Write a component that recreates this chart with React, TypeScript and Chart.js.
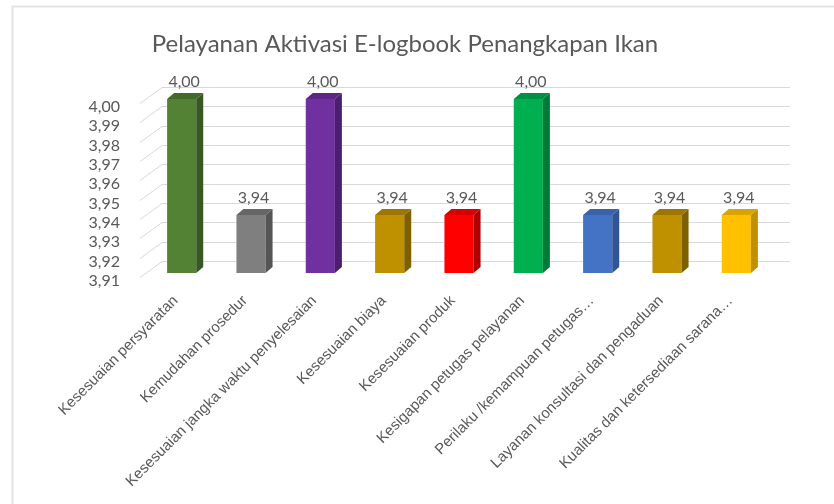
import React, { useEffect, useRef } from "react";
import { Chart, registerables } from "chart.js";

Chart.register(...registerables);

const TITLE = "Pelayanan Aktivasi E-logbook Penangkapan Ikan";

const categories = [
  "Kesesuaian persyaratan",
  "Kemudahan prosedur",
  "Kesesuaian jangka waktu penyelesaian",
  "Kesesuaian biaya",
  "Kesesuaian produk",
  "Kesigapan petugas pelayanan",
  "Perilaku /kemampuan petugas…",
  "Layanan konsultasi dan pengaduan",
  "Kualitas dan ketersediaan sarana…",
];

const values = [4.0, 3.94, 4.0, 3.94, 3.94, 4.0, 3.94, 3.94, 3.94];

const Y_MIN = 3.91;
const Y_MAX = 4.0;
const Y_STEP = 0.01;

const frontColors = ["#548235", "#7f7f7f", "#7030a0", "#bf9000", "#ff0000", "#00b050", "#4472c4", "#bf9000", "#ffc000"];
const sideColors = ["#385723", "#555555", "#4b1f6e", "#7f6000", "#b00000", "#007a38", "#2f5597", "#7f6000", "#bf9000"];
const topColors = ["#44692b", "#666666", "#5d2786", "#9c7600", "#d80000", "#009244", "#3a62aa", "#9c7600", "#d9a300"];

const fmt = (v: number) => v.toFixed(2).replace(".", ",");

const TEXT = "#595959";
const GRID = "#d9d9d9";
const DX = 7;
const DY = 6;

const threeD = {
  id: "threeD",
  beforeDraw(chart: any) {
    const ctx = chart.ctx;
    ctx.save();
    ctx.fillStyle = "#ffffff";
    ctx.fillRect(0, 0, chart.width, chart.height);
    ctx.strokeStyle = "#e3e3e3";
    ctx.lineWidth = 2;
    ctx.beginPath();
    ctx.moveTo(12.5, chart.height);
    ctx.lineTo(12.5, 6.5);
    ctx.lineTo(chart.width, 6.5);
    ctx.stroke();
    // title
    ctx.fillStyle = TEXT;
    ctx.font = "24px Lato";
    ctx.textAlign = "center";
    ctx.textBaseline = "middle";
    ctx.fillText(TITLE, 405, 44);
    ctx.restore();
  },
  beforeDatasetsDraw(chart: any) {
    const ctx = chart.ctx;
    const y = chart.scales.y;
    const { left, right } = chart.chartArea;
    ctx.save();
    ctx.strokeStyle = GRID;
    ctx.lineWidth = 1;
    ctx.fillStyle = TEXT;
    ctx.font = "16px Lato";
    ctx.textAlign = "right";
    ctx.textBaseline = "middle";
    y.ticks.forEach((t: any) => {
      const py = Math.round(y.getPixelForValue(t.value));
      ctx.beginPath();
      ctx.moveTo(left - 7, py + 4 + 0.5);
      ctx.lineTo(left + 15, py - 12 + 0.5);
      ctx.lineTo(right + 19, py - 12 + 0.5);
      ctx.stroke();
      ctx.fillText(fmt(t.value), left - 27, py + 8);
    });
    ctx.restore();
  },
  afterDatasetsDraw(chart: any) {
    const ctx = chart.ctx;
    const meta = chart.getDatasetMeta(0);
    const bottom = chart.chartArea.bottom;
    ctx.save();
    meta.data.forEach((bar: any, i: number) => {
      const { x, y, width } = bar.getProps(["x", "y", "width"], true);
      const base = bottom;
      const l = x - width / 2;
      const r = x + width / 2;
      // side face
      ctx.fillStyle = sideColors[i];
      ctx.beginPath();
      ctx.moveTo(r, y);
      ctx.lineTo(r + DX, y - DY);
      ctx.lineTo(r + DX, base - DY);
      ctx.lineTo(r, base);
      ctx.closePath();
      ctx.fill();
      // top face
      ctx.fillStyle = topColors[i];
      ctx.beginPath();
      ctx.moveTo(l, y);
      ctx.lineTo(l + DX, y - DY);
      ctx.lineTo(r + DX, y - DY);
      ctx.lineTo(r, y);
      ctx.closePath();
      ctx.fill();
      // value label
      ctx.fillStyle = TEXT;
      ctx.font = "16px Lato";
      ctx.textAlign = "center";
      ctx.textBaseline = "middle";
      ctx.fillText(fmt(values[i]), x + DX / 2 - 1, y - 17);
    });
    ctx.restore();
  },
};

export default function App() {
  const ref = useRef<HTMLCanvasElement | null>(null);

  useEffect(() => {
    if (!ref.current) return;
    const chart = new Chart(ref.current, {
      type: "bar",
      data: {
        labels: categories,
        datasets: [
          {
            data: values,
            backgroundColor: frontColors,
            borderWidth: 0,
            barPercentage: 0.42,
            categoryPercentage: 1,
          },
        ],
      },
      options: {
        responsive: false,
        animation: false,
        devicePixelRatio: 1,
        layout: { padding: { left: 147, right: 63, top: 99, bottom: 0 } },
        plugins: {
          legend: { display: false },
          title: { display: false },
          tooltip: { enabled: false },
        },
        scales: {
          x: {
            grid: { display: false, drawTicks: false },
            border: { display: false },
            ticks: {
              color: TEXT,
              font: { family: "'Liberation Sans', Arial, sans-serif", size: 15 },
              minRotation: 45,
              maxRotation: 45,
              autoSkip: false,
              padding: 19,
              labelOffset: -6,
            },
            afterFit: (s: any) => {
              s.height = 504 - 273;
            },
          },
          y: {
            display: false,
            min: Y_MIN,
            max: Y_MAX,
            ticks: { stepSize: Y_STEP },
          },
        },
      },
      plugins: [threeD],
    });
    return () => chart.destroy();
  }, []);

  return (
    <div style={{ position: "absolute", left: 0, top: 0, width: 834, height: 504 }}>
      <canvas ref={ref} width={834} height={504} style={{ display: "block" }} />
    </div>
  );
}
